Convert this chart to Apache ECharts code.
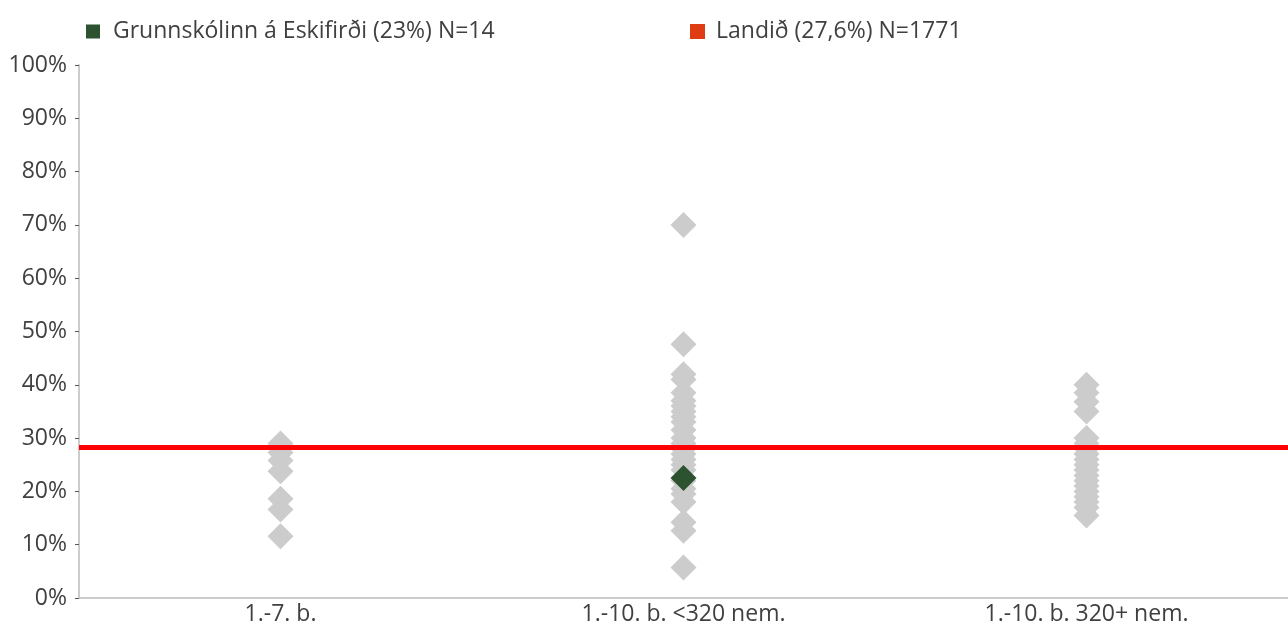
<!DOCTYPE html>
<html>
<head>
<meta charset="utf-8">
<script src="https://cdn.jsdelivr.net/npm/echarts@6/dist/echarts.min.js"></script>
<style>
html,body{margin:0;padding:0;background:#fff;}
#chart{width:1288px;height:626px;}
</style>
</head>
<body>
<div id="chart"></div>
<script>
var categories = ['1.-7. b.', '1.-10. b. <320 nem.', '1.-10. b. 320+ nem.'];
var yTicks = [0, 10, 20, 30, 40, 50, 60, 70, 80, 90, 100];
var schoolsCat1 = [29, 27.3, 25.8, 23.8, 18.6, 16.6, 11.6];
var schoolsCat2 = [70, 47.6, 42, 41, 38.5, 37, 36, 35, 34, 33, 31.5, 30, 29, 28, 27, 26, 25, 24, 22, 20.5, 19.5, 18, 14.2, 12.6, 5.7];
var schoolsCat3 = [40, 38.5, 36.8, 35, 30, 29, 28, 27, 26, 25, 24, 23, 22, 21, 20, 19, 18, 17, 15.5];
var highlightCategory = '1.-10. b. <320 nem.';
var highlightValue = 22.5;
var nationalValue = 28.3;
var schoolName = 'Grunnskólinn á Eskifirði (23%) N=14';
var nationalName = 'Landið (27,6%) N=1771';

var grayData = [];
[schoolsCat1, schoolsCat2, schoolsCat3].forEach(function (arr, i) {
  arr.forEach(function (v) { grayData.push([categories[i], v]); });
});

var FONT = 'Open Sans';
var FS = 23;
var TEXT = '#404040';
var chart = echarts.init(document.getElementById('chart'));
chart.setOption({
  animation: false,
  textStyle: { fontFamily: FONT },
  grid: { left: 79, right: 0, top: 65, bottom: 28, containLabel: false },
  legend: [
    {
      left: 86, top: 20, padding: 0, itemWidth: 14, itemHeight: 14, itemGap: 10,
      icon: 'rect',
      textStyle: { fontFamily: FONT, fontSize: FS, color: TEXT, padding: [0, 0, 0, 8] },
      data: [{ name: schoolName, itemStyle: { color: '#2d5230' } }]
    },
    {
      left: 690, top: 20, padding: 0, itemWidth: 15, itemHeight: 15,
      icon: 'rect',
      textStyle: { fontFamily: FONT, fontSize: FS, color: TEXT, padding: [0, 0, 0, 6] },
      data: [{ name: nationalName, itemStyle: { color: '#e03c14' } }]
    }
  ],
  xAxis: {
    type: 'category',
    data: categories,
    boundaryGap: true,
    axisLine: { lineStyle: { color: '#cccccc', width: 2 } },
    axisTick: { show: false },
    axisLabel: { fontFamily: FONT, fontSize: FS, color: TEXT, margin: 5 }
  },
  yAxis: {
    type: 'value',
    min: 0, max: 100, interval: 10,
    axisLine: { show: true, lineStyle: { color: '#cccccc', width: 2 } },
    axisTick: { show: true, length: 4, lineStyle: { color: '#595959', width: 1 } },
    splitLine: { show: false },
    axisLabel: {
      fontFamily: FONT, fontSize: FS, color: TEXT, margin: 12,
      formatter: function (v) { return yTicks.indexOf(v) >= 0 ? v + '%' : ''; }
    }
  },
  series: [
    {
      name: 'schools',
      type: 'scatter',
      symbol: 'diamond',
      symbolSize: 26,
      itemStyle: { color: '#cccccc', opacity: 1 },
      data: grayData,
      z: 2
    },
    {
      name: nationalName,
      type: 'line',
      data: [],
      itemStyle: { color: '#e03c14' },
      markLine: {
        silent: true,
        symbol: ['none', 'none'],
        label: { show: false },
        lineStyle: { color: '#ff0000', width: 5, type: 'solid' },
        data: [{ yAxis: nationalValue }]
      },
      z: 3
    },
    {
      name: schoolName,
      type: 'scatter',
      symbol: 'diamond',
      symbolSize: 26,
      itemStyle: { color: '#2d5230', opacity: 1 },
      data: [[highlightCategory, highlightValue]],
      z: 4
    }
  ]
});
</script>
</body>
</html>
